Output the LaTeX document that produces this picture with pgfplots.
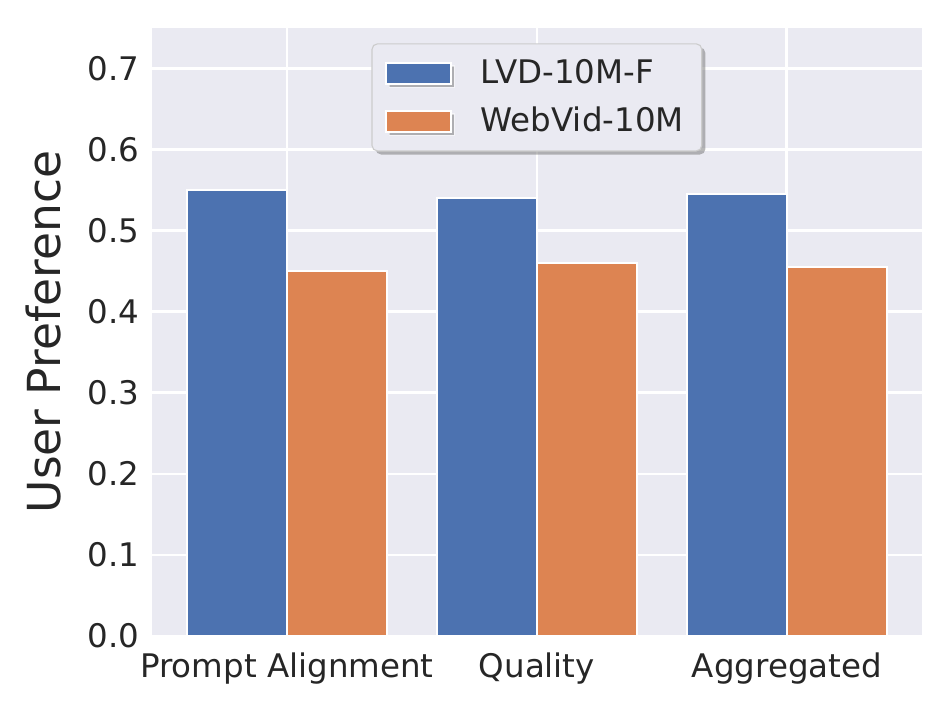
\documentclass[border=0pt]{standalone}
\usepackage{fontspec}
\setmainfont{DejaVu Sans}
\usepackage{pgfplots}
\pgfplotsset{compat=1.18}
\usetikzlibrary{shadows}
\definecolor{sbblue}{HTML}{4C72B0}
\definecolor{sborange}{HTML}{DD8452}
\definecolor{sbbg}{HTML}{EAEAF2}
\begin{document}
\begin{tikzpicture}
\begin{axis}[
  at={(54.7pt,27.7pt)}, anchor=south west,
  scale only axis, width=277.2pt, height=218.9pt,
  xmin=-0.54, xmax=2.54, ymin=0, ymax=0.75,
  xtick={0,1,2}, xticklabels={Prompt Alignment,Quality,Aggregated},
  ytick={0,0.1,0.2,0.3,0.4,0.5,0.6,0.7},
  yticklabel style={/pgf/number format/fixed,/pgf/number format/fixed zerofill,/pgf/number format/precision=1, xshift=-1pt},
  /pgf/number format/assume math mode=true,
  ticklabel style={font=\fontsize{11.7}{14}\selectfont, color=black!85},
  xticklabel style={yshift=-2.5pt},
  major tick length=0pt,
  axis line style={draw=none},
  axis background/.style={fill=sbbg},
  grid=major, grid style={white, line width=1pt},
  ylabel={User Preference},
  every axis y label/.style={at={(axis description cs:-0.141,0.5)}, rotate=90, anchor=center, font=\fontsize{16.4}{19}\selectfont, color=black!85},
  legend style={at={(0.5,0.975)}, anchor=north, fill=sbbg, draw=black!20, rounded corners=2pt,
    drop shadow={shadow xshift=1.3pt, shadow yshift=-1.3pt, fill=black!55},
    font=\fontsize{11.7}{13}\selectfont, text=black!85, row sep=3pt,
    inner xsep=3.25pt, inner ysep=3.5pt,
    nodes={inner xsep=3.25pt, sharp corners}},
  legend cell align=left,
  legend image code/.code={\path (-1.45pt,0pt) (30.55pt,0pt);\draw[#1,sharp corners] (0pt,-3.8pt) rectangle (23.4pt,3.8pt);},
]
\addplot[ybar, bar width=0.4, bar shift=-0.2, fill=sbblue, draw=white, line width=0.6pt]
  coordinates {(0,0.550) (1,0.540) (2,0.545)};
\addlegendentry{LVD-10M-F}
\addplot[ybar, bar width=0.4, bar shift=0.2, fill=sborange, draw=white, line width=0.6pt]
  coordinates {(0,0.450) (1,0.460) (2,0.455)};
\addlegendentry{WebVid-10M}
\end{axis}
\pgfresetboundingbox
\path (0,0) rectangle (342.4pt,256.7pt);
\end{tikzpicture}
\end{document}
